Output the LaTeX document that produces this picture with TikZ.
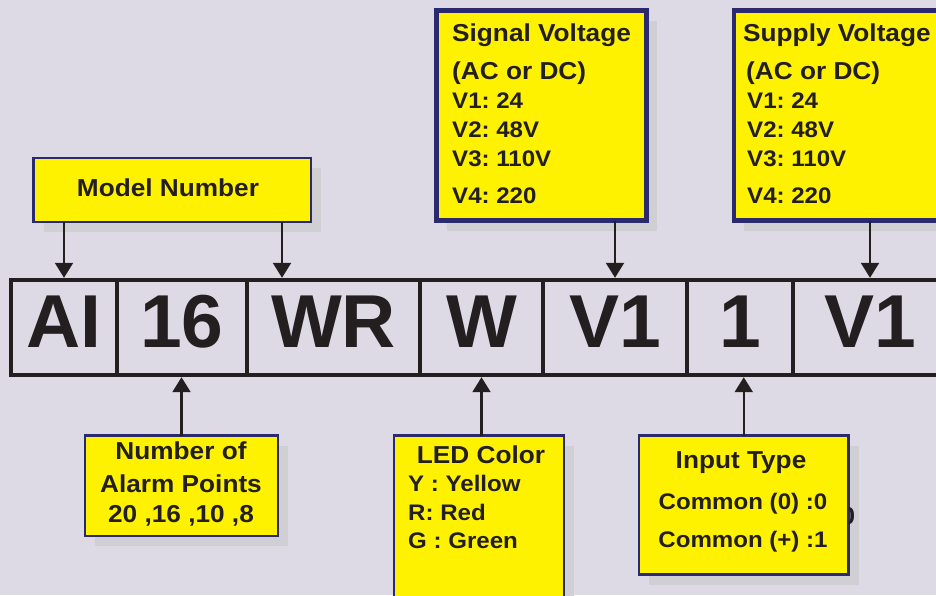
\documentclass[tikz,border=0pt]{standalone}
\usepackage{fontspec}
\newfontfamily\labelfont[FakeStretch=1.07]{Liberation Sans}
\newfontfamily\codefont{Liberation Sans}
\usetikzlibrary{positioning,arrows.meta,shadows}
\frenchspacing

\definecolor{bgcol}{RGB}{221,218,229}
\definecolor{boxyellow}{RGB}{255,242,0}
\definecolor{navy}{RGB}{44,42,110}
\definecolor{shadowgray}{RGB}{207,207,212}
\definecolor{inkcol}{RGB}{35,31,32}

\tikzset{
  cell/.style={draw=inkcol, line width=4.5pt, minimum height=95pt, outer sep=0pt, inner sep=0pt,
    font=\codefont\bfseries\fontsize{75}{80}\selectfont, text=inkcol, text height=54pt, text depth=15pt},
  infobox/.style={draw=navy, fill=boxyellow, line width=2.3pt, outer sep=0pt, inner sep=0pt, anchor=north west,
    drop shadow={shadow xshift=10pt, shadow yshift=-10pt, fill=shadowgray, opacity=1}},
  heavybox/.style={infobox, line width=4.8pt},
  pointer/.style={draw=inkcol, line width=2.2pt, shorten >=2.2pt, -{Triangle[width=18pt,length=15pt]}},
  boxtext/.style={font=\labelfont\bfseries\fontsize{24.5}{28}\selectfont, text=inkcol, inner sep=0pt},
  subtext/.style={font=\labelfont\bfseries\fontsize{22.5}{26}\selectfont, text=inkcol, inner sep=0pt}
}

\begin{document}
\begin{tikzpicture}[x=1pt,y=-1pt]
    \fill[bgcol] (0,0) rectangle (936,595);
    \useasboundingbox (0,0) rectangle (936,595);

    % the code strip
    \node[cell, minimum width=106pt, anchor=west] (ai) at (11,327.5) {AI\hspace{12pt}};
    \node[cell, minimum width=130pt, right=0pt of ai] (pts) {16};
    \node[cell, minimum width=173pt, right=0pt of pts] (wr) {WR};
    \node[cell, minimum width=123pt, right=0pt of wr] (led) {W};
    \node[cell, minimum width=144pt, right=0pt of led] (sigv) {V1};
    \node[cell, minimum width=106pt, right=0pt of sigv] (inp) {1};
    \node[cell, minimum width=154pt, right=0pt of inp] (supv) {V1};

    % boxes above
    \node[infobox, minimum width=277.5pt, minimum height=64pt] (model) at (33.5,158) {};
    \node[boxtext, anchor=base] (modeltxt) at (168,196) {Model Number};

    \node[heavybox, minimum width=210pt, minimum height=210pt] (signal) at (436.5,10.5) {};
    \node[boxtext, anchor=base west] (sig1) at (452,41) {Signal Voltage};
    \node[boxtext, anchor=base west] (sig2) at (452,79) {(AC or DC)};
    \foreach \vv/\yy [count=\i] in {V1: 24/108, V2: 48V/137, V3: 110V/166, V4: 220/203}
      \node[subtext, anchor=base west] (sigline\i) at (452,\yy) {\vv};

    \node[heavybox, minimum width=210pt, minimum height=210pt] (supply) at (734,10.5) {};
    \node[boxtext, anchor=base west] (sup1) at (743,41) {Supply Voltage};
    \node[boxtext, anchor=base west] (sup2) at (746,79) {(AC or DC)};
    \foreach \vv/\yy [count=\i] in {V1: 24/108, V2: 48V/137, V3: 110V/166, V4: 220/203}
      \node[subtext, anchor=base west] (supline\i) at (747,\yy) {\vv};

    % boxes below
    \node[infobox, minimum width=193pt, minimum height=100.5pt] (alarm) at (85,435.5) {};
    \node[boxtext, anchor=base] (alarm1) at (181,459) {Number of};
    \node[boxtext, anchor=base] (alarm2) at (181,492) {Alarm Points};
    \node[boxtext, anchor=base] (alarm3) at (181,522) {20 ,16 ,10 ,8};

    \node[infobox, minimum width=170pt, minimum height=180pt] (color) at (394,435.5) {};
    \node[boxtext, anchor=base] (color1) at (481,463) {LED Color};
    \node[subtext, anchor=base west] (color2) at (408,491) {Y : Yellow};
    \node[subtext, anchor=base west] (color3) at (408,520) {R: Red};
    \node[subtext, anchor=base west] (color4) at (408,548) {G : Green};

    \node[infobox, minimum width=209.5pt, minimum height=139pt] (input) at (639,435.5) {};
    \node[boxtext, anchor=base] (input1) at (741,468) {Input Type};
    \node[subtext, anchor=base] (input2) at (743,509) {Common (0) :0};
    \node[subtext, anchor=base] (input3) at (743,547) {Common (+) :1};
    \begin{scope}
      \clip ([xshift=1.2pt]input.north east) rectangle ([xshift=20pt]input.south east);
      \node[boxtext, anchor=base west] (stray) at (840.5,524) {0};
    \end{scope}

    % arrows
    \coordinate (wrin) at ([xshift=35pt]wr.north west);
    \draw[pointer] (ai.north |- model.south) -- (ai.north);
    \draw[pointer] (wrin |- model.south) -- (wrin);
    \draw[pointer] (sigv.north |- signal.south) -- (sigv.north);
    \draw[pointer] (supv.north |- supply.south) -- (supv.north);
    \draw[pointer] (alarm.north) -- (alarm.north |- pts.south);
    \draw[pointer] (led.south |- color.north) -- (led.south);
    \draw[pointer] (input.north) -- (input.north |- inp.south);
\end{tikzpicture}
\end{document}
